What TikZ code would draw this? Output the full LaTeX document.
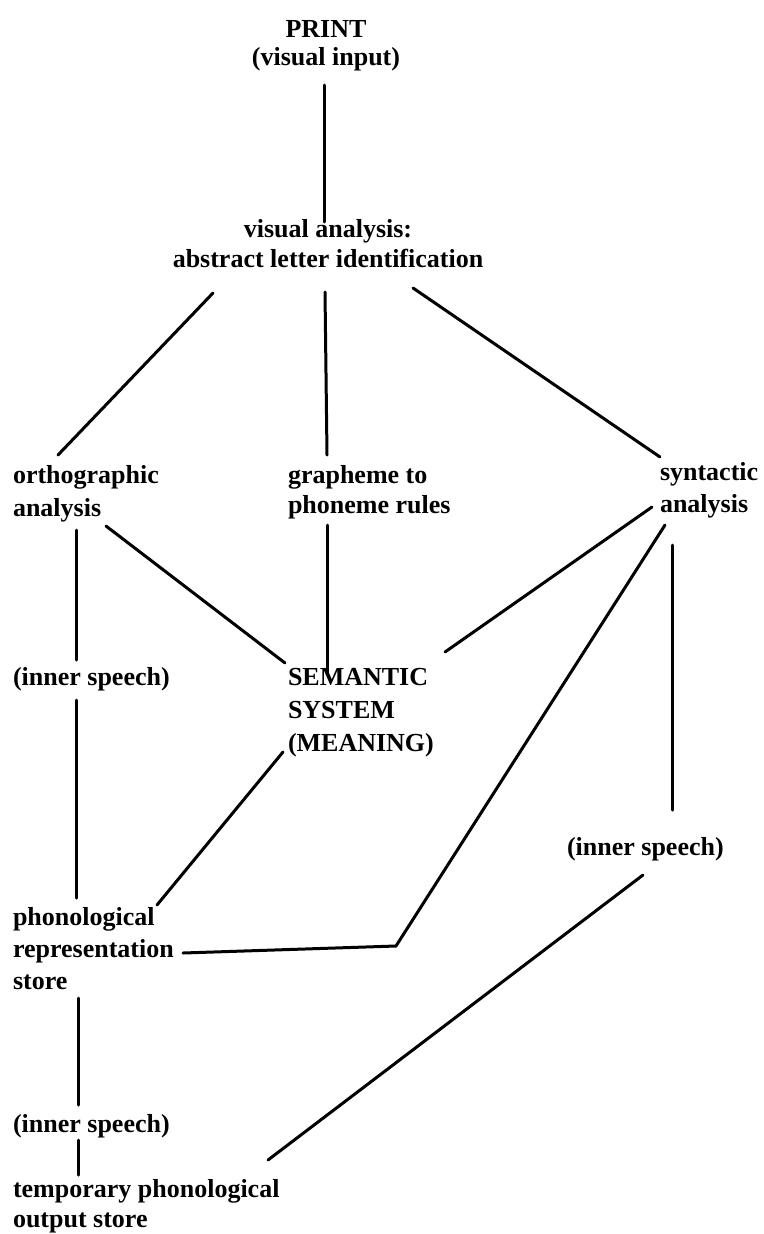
\documentclass[tikz,border=0pt]{standalone}
\usepackage{fontspec}
\setmainfont{Liberation Serif}
\begin{document}
\begin{tikzpicture}[x=1pt,y=-1pt,
  lbl/.style={inner sep=0pt,outer sep=0pt,anchor=base west,align=left,
    font=\bfseries\fontsize{26}{31}\selectfont},
  conn/.style={line width=3pt,line cap=round}]
\fill[white] (0,0) rectangle (763,1234);
\useasboundingbox (0,0) rectangle (763,1234);
% nodes (anchor base = baseline of the last line)
\node[lbl,anchor=base,align=center,font=\bfseries\fontsize{26}{28}\selectfont] (print) at (326,65) {PRINT\\(visual input)};
\node[lbl,anchor=base,align=center,font=\bfseries\fontsize{26}{30}\selectfont] (vis) at (328,267) {visual analysis:\\abstract letter identification};
\node[lbl,font=\bfseries\fontsize{26}{33}\selectfont] (orth) at (13,516) {orthographic\\analysis};
\node[lbl,font=\bfseries\fontsize{26}{30}\selectfont] (graph) at (288,513) {grapheme to\\phoneme rules};
\node[lbl,font=\bfseries\fontsize{26}{32}\selectfont] (synt) at (660,512) {syntactic\\analysis};
\node[lbl] (isL) at (13,685) {(inner speech)};
\node[lbl,font=\bfseries\fontsize{26}{33}\selectfont] (sem) at (288,751) {SEMANTIC\\SYSTEM\\(MEANING)};
\node[lbl] (isR) at (567,855) {(inner speech)};
\node[lbl,font=\bfseries\fontsize{26}{32}\selectfont] (phon) at (13,989) {phonological\\representation\\store};
\node[lbl] (isL2) at (13,1132) {(inner speech)};
\node[lbl,font=\bfseries\fontsize{26}{30}\selectfont] (temp) at (13,1227) {temporary phonological\\output store};
% connectors
\draw[conn] ([shift={(-2,20)}]print.base) -- ([shift={(-4,-45)}]vis.base);
\draw[conn] ([shift={(-115,26)}]vis.base) -- ([shift={(45,-61)}]orth.base west);
\draw[conn] ([shift={(-3,25)}]vis.base) -- ([shift={(39,-58)}]graph.base west);
\draw[conn] ([shift={(85,21)}]vis.base) -- ([shift={(0,-55)}]synt.base west);
\draw[conn] ([shift={(63,14)}]orth.base west) -- ([shift={(63,-25)}]isL.base west);
\draw[conn] ([shift={(93,10)}]orth.base west) -- ([shift={(-3,-88)}]sem.base west);
\draw[conn] ([shift={(39,12)}]graph.base west) -- ([shift={(39,-78)}]sem.base west);
\draw[conn] ([shift={(-8,-5)}]synt.base west) -- ([shift={(157,-99)}]sem.base west);
\draw[conn] ([shift={(5,13)}]synt.base west) -- (396,946) -- ([shift={(170,-36)}]phon.base west);
\draw[conn] ([shift={(12,33)}]synt.base west) -- ([shift={(105,-45)}]isR.base west);
\draw[conn] ([shift={(63,15)}]isL.base west) -- ([shift={(63,-91)}]phon.base west);
\draw[conn] ([shift={(-5,1)}]sem.base west) -- ([shift={(144,-84)}]phon.base west);
\draw[conn] ([shift={(76,20)}]isR.base west) -- ([shift={(255,-67)}]temp.base west);
\draw[conn] ([shift={(65,9)}]phon.base west) -- ([shift={(65,-27)}]isL2.base west);
\draw[conn] ([shift={(65,8)}]isL2.base west) -- ([shift={(65,-52)}]temp.base west);
\end{tikzpicture}
\end{document}
